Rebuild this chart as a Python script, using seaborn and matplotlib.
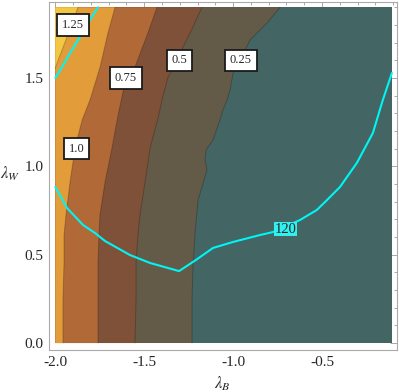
import numpy as np
import matplotlib
matplotlib.use("Agg")
import matplotlib.pyplot as plt
from matplotlib.ticker import MultipleLocator
import seaborn as sns

# plot range of the contour field
x_range = [-2.0, -0.105]
y_range = [0.0, 1.9]

# contour boundaries (x at each y), top to bottom
b125_x = [-1.872, -1.934, -1.962, -1.990, -2.0]
b125_y = [1.90, 1.732, 1.658, 1.585, 1.556]

b100_x = [-1.664, -1.704, -1.748, -1.805, -1.849, -1.889, -1.917, -1.940, -1.951, -1.951, -1.957, -1.957]
b100_y = [1.90, 1.754, 1.562, 1.375, 1.262, 1.104, 0.911, 0.724, 0.611, 0.453, 0.243, 0.0]

b075_x = [-1.428, -1.479, -1.552, -1.602, -1.647, -1.681, -1.720, -1.749, -1.754, -1.760, -1.760]
b075_y = [1.90, 1.754, 1.562, 1.500, 1.290, 1.104, 0.911, 0.724, 0.611, 0.453, 0.0]

b050_x = [-1.175, -1.242, -1.282, -1.304, -1.366, -1.400, -1.422, -1.467, -1.495, -1.524, -1.535, -1.546, -1.546, -1.552]
b050_y = [1.90, 1.754, 1.675, 1.607, 1.505, 1.375, 1.273, 1.104, 0.911, 0.724, 0.611, 0.453, 0.243, 0.0]

b025_x = [-0.736, -0.809, -0.905, -0.955, -1.000, -1.017, -1.034, -1.057, -1.074, -1.113, -1.152,
          -1.158, -1.147, -1.175, -1.197, -1.214, -1.226, -1.231, -1.231]
b025_y = [1.90, 1.811, 1.715, 1.607, 1.528, 1.432, 1.375, 1.319, 1.262, 1.149, 1.092,
          1.036, 0.979, 0.883, 0.810, 0.623, 0.430, 0.243, 0.0]

levels = ["0.25", "0.5", "0.75", "1.0", "1.25"]
fill_colors = ["#635B47", "#7F5139", "#B06937", "#E29D3A", "#F2C744"]
base_color = "#436564"

# the "120" contour, two pieces
c120a_x = [-1.760, -1.805, -1.861, -1.917, -1.962, -2.0]
c120a_y = [1.90, 1.828, 1.732, 1.641, 1.562, 1.500]
c120b_x = [-2.0, -1.934, -1.844, -1.776, -1.720, -1.580, -1.467, -1.304, -1.209, -1.113, -1.000,
           -0.849, -0.776, -0.624, -0.529, -0.472, -0.399, -0.304, -0.214, -0.158, -0.107]
c120b_y = [0.883, 0.764, 0.668, 0.622, 0.577, 0.498, 0.453, 0.407, 0.470, 0.538, 0.572,
           0.611, 0.628, 0.696, 0.753, 0.809, 0.883, 1.019, 1.188, 1.375, 1.528]

# contour labels
label_text = ["1.25", "1.0", "0.75", "0.5", "0.25"]
label_x = [-1.900, -1.881, -1.602, -1.301, -0.956]
label_y = [1.80, 1.10, 1.50, 1.60, 1.60]

sns.set_style("white")
plt.rcParams["mathtext.fontset"] = "stix"
plt.rcParams["font.family"] = ["Liberation Serif", "DejaVu Serif"]

fig = plt.figure(figsize=(3.99, 3.92), dpi=100)
ax = fig.add_axes([0.1228, 0.1071, 0.8722, 0.8878])
ax.set_facecolor("white")

# base region
ax.fill([x_range[0], x_range[1], x_range[1], x_range[0]],
        [y_range[0], y_range[0], y_range[1], y_range[1]], color=base_color, lw=0)

boundaries = [(b025_x, b025_y), (b050_x, b050_y), (b075_x, b075_y), (b100_x, b100_y), (b125_x, b125_y)]
for (bx, by), col in zip(boundaries, fill_colors):
    if by[-1] == 0.0:
        px = list(bx) + [x_range[0], x_range[0]]
        py = list(by) + [y_range[0], y_range[1]]
    else:
        px = list(bx) + [x_range[0]]
        py = list(by) + [y_range[1]]
    ax.fill(px, py, color=col, lw=0)
    ax.plot(bx, by, color="black", alpha=0.22, lw=0.7)

for cx, cy in [(c120a_x, c120a_y), (c120b_x, c120b_y)]:
    sns.lineplot(x=cx, y=cy, sort=False, estimator=None, color="#00F5F5", lw=1.5, ax=ax)

for t, x, y in zip(label_text, label_x, label_y):
    ax.text(x, y, t, fontsize=9, ha="center", va="center",
            bbox=dict(boxstyle="square,pad=0.38", fc="white", ec="#1a1a1a", lw=1.3))
ax.text(-0.705, 0.645, "120", fontsize=10.5, ha="center", va="center",
        bbox=dict(boxstyle="square,pad=0.06", fc="#33F0F0", ec="none"))

ax.set_xlim(-2.0354, -0.0782)
ax.set_ylim(-0.0396, 1.9298)
ax.set_xticks([-2.0, -1.5, -1.0, -0.5])
ax.set_yticks([0.0, 0.5, 1.0, 1.5])
ax.xaxis.set_minor_locator(MultipleLocator(0.1))
ax.yaxis.set_minor_locator(MultipleLocator(0.1))
ax.xaxis.set_major_formatter(matplotlib.ticker.FormatStrFormatter("%.1f"))
ax.yaxis.set_major_formatter(matplotlib.ticker.FormatStrFormatter("%.1f"))
ax.tick_params(which="both", direction="in", top=True, right=True, color="#999999",
               width=0.6, labelsize=11, pad=4)
ax.tick_params(which="major", length=5)
ax.tick_params(which="minor", length=2.5)
for s in ax.spines.values():
    s.set_color("#aaaaaa")
    s.set_linewidth(0.8)

fig.text(0.556, 0.020, r"$\lambda_B$", fontsize=12, ha="center", va="center")
fig.text(0.026, 0.556, r"$\lambda_W$", fontsize=12, ha="center", va="center")

fig.savefig("out.png", dpi=100)
